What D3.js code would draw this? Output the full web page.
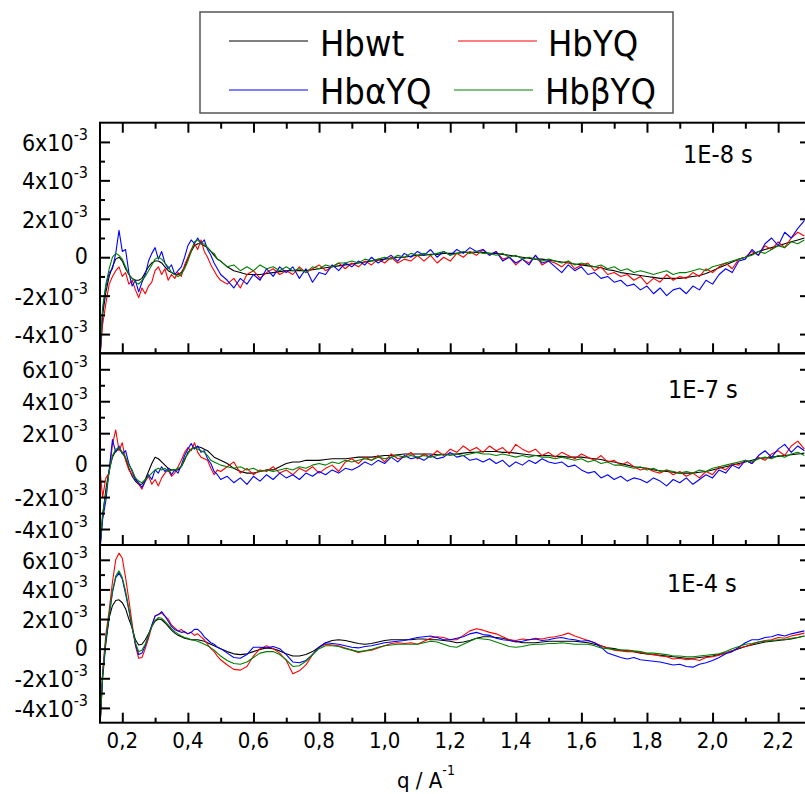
<!DOCTYPE html>
<html>
<head>
<meta charset="utf-8">
<script src="https://cdn.jsdelivr.net/npm/d3@7"></script>
<style>
  body { margin: 0; background: #fff; }
  svg text { font-family: 'DejaVu Sans Condensed', 'DejaVu Sans', sans-serif; font-stretch: condensed; fill: #000; }
</style>
</head>
<body>
<svg id="chart" width="805" height="794"></svg>
<script>
// q values (A^-1), shared by every curve
var Q = [0.132,0.14,0.15,0.16,0.17,0.18,0.19,0.20,
  0.21,0.22,0.23,0.24,0.25,0.26,0.27,0.28,0.29,0.30,
  0.31,0.32,0.33,0.34,0.35,0.36,0.37,0.38,0.39,0.40,
  0.41,0.42,0.43,0.44,0.45,0.46,0.47,0.48,0.49,0.50,
  0.52,0.54,0.56,0.58,0.60,0.62,0.64,0.66,0.68,0.70,
  0.72,0.74,0.76,0.78,0.80,0.82,0.84,0.86,0.88,0.90,
  0.92,0.94,0.96,0.98,1.00,1.02,1.04,1.06,1.08,1.10,
  1.12,1.14,1.16,1.18,1.20,1.22,1.24,1.26,1.28,1.30,
  1.32,1.34,1.36,1.38,1.40,1.42,1.44,1.46,1.48,1.50,
  1.52,1.54,1.56,1.58,1.60,1.62,1.64,1.66,1.68,1.70,
  1.72,1.74,1.76,1.78,1.80,1.82,1.84,1.86,1.88,1.90,
  1.92,1.94,1.96,1.98,2.00,2.02,2.04,2.06,2.08,2.10,
  2.12,2.14,2.16,2.18,2.20,2.22,2.24,2.26,2.28];

// difference signal in units of 1e-3, panel "1E-8 s"
var HBWT_8 = [-5.2,-3.0,-1.8,-1.0,-0.5,-0.1,0.0,-0.2,
  -0.6,-0.9,-1.1,-1.2,-1.2,-1.1,-0.8,-0.5,-0.3,-0.2,
  -0.2,-0.3,-0.5,-0.7,-0.8,-0.9,-0.9,-0.8,-0.5,-0.1,
  0.3,0.6,0.7,0.7,0.6,0.5,0.3,0.1,-0.1,-0.2,
  -0.5,-0.7,-0.8,-0.9,-0.9,-0.9,-0.85,-0.8,-0.75,-0.7,
  -0.7,-0.7,-0.7,-0.65,-0.6,-0.55,-0.5,-0.45,-0.4,-0.35,
  -0.3,-0.25,-0.2,-0.15,-0.1,-0.05,0.0,0.0,0.05,0.1,
  0.1,0.15,0.15,0.2,0.2,0.2,0.25,0.25,0.25,0.25,
  0.2,0.2,0.15,0.1,0.05,0.0,-0.05,-0.1,-0.1,-0.15,
  -0.2,-0.25,-0.3,-0.35,-0.4,-0.45,-0.5,-0.55,-0.65,-0.7,
  -0.8,-0.85,-0.9,-0.95,-1.0,-1.05,-1.1,-1.1,-1.1,-1.1,
  -1.05,-1.0,-0.95,-0.85,-0.7,-0.55,-0.4,-0.25,-0.1,0.0,
  0.15,0.3,0.4,0.5,0.6,0.7,0.8,0.9,1.0];
var HBYQ_8 = [-5.2,-3.5,-2.4,-1.4,-1.0,-0.7,-0.5,-1.0,
  -0.8,-1.4,-1.2,-1.7,-2.1,-1.6,-1.9,-1.5,-1.3,-0.7,
  -0.5,-0.9,-0.6,-1.2,-0.9,-1.1,-0.8,-1.0,-0.4,0.0,
  0.4,0.7,0.4,0.9,0.3,0.0,-0.4,-0.7,-1.0,-1.2,
  -1.4,-1.1,-1.6,-0.9,-0.7,-1.1,-0.8,-0.6,-0.9,-0.7,
  -0.9,-0.5,-0.8,-0.6,-0.4,-0.7,-0.5,-0.3,-0.6,-0.3,
  -0.5,-0.2,-0.4,-0.1,-0.3,0.0,-0.3,-0.1,-0.2,0.1,
  -0.2,0.1,-0.3,0.0,-0.2,0.2,0.0,0.3,0.1,0.4,
  0.1,0.3,-0.1,0.0,-0.4,-0.1,-0.3,0.1,-0.4,-0.2,
  -0.3,-0.5,-0.2,-0.6,-0.4,-0.3,-0.7,-0.5,-0.9,-0.8,
  -1.0,-0.9,-1.2,-1.0,-1.4,-1.1,-1.3,-0.9,-1.2,-1.0,
  -1.1,-0.8,-1.0,-0.6,-0.8,-0.5,-0.3,-0.6,-0.1,0.0,
  0.3,0.1,0.6,0.4,0.8,0.5,1.0,1.3,1.1];
var HBAYQ_8 = [-5.3,-2.8,-1.5,-0.8,-0.6,0.2,1.4,0.3,
  0.4,-0.8,-1.5,-1.2,-1.8,-1.3,-0.9,-0.2,0.2,0.5,
  -0.1,0.3,-0.3,-0.6,-0.4,-0.9,-0.7,-0.5,0.0,0.6,
  0.9,0.7,1.0,0.7,0.9,0.4,0.1,-0.3,-0.6,-0.9,
  -1.2,-1.6,-1.1,-1.4,-0.9,-1.2,-0.6,-1.0,-0.5,-0.8,
  -0.5,-1.1,-0.6,-1.3,-0.8,-0.9,-0.4,-0.7,-0.3,-0.5,
  -0.2,-0.4,0.0,-0.3,-0.1,0.1,-0.2,0.2,0.0,0.3,
  0.1,0.4,0.0,0.3,0.1,0.4,0.2,0.5,0.3,0.4,
  0.1,0.3,-0.2,0.0,-0.3,-0.1,-0.4,0.1,-0.3,-0.2,
  -0.5,-0.8,-0.4,-0.7,-0.5,-0.9,-0.8,-1.1,-1.0,-1.3,
  -1.2,-1.5,-1.4,-1.7,-1.5,-1.9,-1.6,-2.0,-1.7,-1.6,
  -1.9,-1.5,-1.7,-1.2,-1.4,-0.9,-0.6,-0.8,-0.2,-0.1,
  0.4,0.1,0.7,1.0,0.6,1.3,1.0,1.5,1.9];
var HBBYQ_8 = [-5.1,-2.6,-1.4,-0.6,0.0,0.2,0.1,-0.1,
  -0.5,-0.9,-1.1,-1.3,-1.4,-1.2,-1.0,-0.7,-0.4,-0.1,
  0.0,-0.1,-0.3,-0.5,-0.8,-0.9,-1.0,-0.9,-0.6,-0.2,
  0.3,0.8,0.9,0.7,0.7,0.5,0.3,0.2,-0.1,-0.2,
  -0.5,-0.4,-0.7,-0.5,-0.7,-0.4,-0.6,-0.5,-0.7,-0.5,
  -0.7,-0.6,-0.8,-0.5,-0.6,-0.4,-0.5,-0.3,-0.3,-0.2,
  -0.3,-0.1,-0.2,-0.1,0.0,-0.1,0.1,0.0,0.2,0.1,
  0.2,0.1,0.2,0.3,0.1,0.2,0.3,0.2,0.3,0.2,
  0.2,0.1,0.2,0.0,0.1,-0.1,0.0,-0.1,-0.2,-0.1,
  -0.2,-0.3,-0.2,-0.4,-0.3,-0.4,-0.5,-0.4,-0.6,-0.5,
  -0.7,-0.6,-0.8,-0.7,-0.8,-0.9,-0.8,-0.7,-0.9,-0.8,
  -0.8,-0.7,-0.6,-0.7,-0.5,-0.4,-0.3,-0.2,-0.1,0.0,
  0.1,0.3,0.2,0.4,0.6,0.5,0.8,0.7,0.9];

// panel "1E-7 s"
var HBWT_7 = [-5.2,-3.2,-1.5,-0.3,0.5,0.9,1.0,0.8,
  0.4,-0.2,-0.7,-1.0,-1.2,-1.2,-0.9,-0.4,0.1,0.5,
  0.4,0.2,0.0,-0.2,-0.3,-0.3,-0.3,-0.1,0.3,0.8,
  1.0,1.1,1.15,1.1,1.0,0.9,0.7,0.5,0.4,0.3,
  0.1,-0.2,-0.4,-0.5,-0.5,-0.4,-0.3,-0.3,-0.1,0.1,
  0.2,0.2,0.3,0.3,0.3,0.35,0.4,0.4,0.4,0.45,
  0.5,0.5,0.5,0.55,0.6,0.6,0.65,0.7,0.7,0.7,
  0.7,0.7,0.65,0.65,0.7,0.7,0.75,0.8,0.8,0.85,
  0.85,0.85,0.8,0.8,0.75,0.7,0.65,0.6,0.6,0.6,
  0.55,0.55,0.5,0.5,0.5,0.45,0.4,0.35,0.25,0.2,
  0.1,0.0,-0.1,-0.15,-0.2,-0.3,-0.35,-0.4,-0.45,-0.5,
  -0.5,-0.5,-0.45,-0.4,-0.3,-0.2,-0.1,0.0,0.1,0.2,
  0.3,0.4,0.45,0.5,0.55,0.6,0.65,0.7,0.75];
var HBYQ_7 = [-0.3,-2.0,-0.8,-0.5,1.3,2.2,0.9,1.4,
  0.3,-0.3,-0.6,-0.8,-1.2,-1.5,-1.0,-0.7,-1.2,-0.9,
  -1.3,-0.8,-0.5,-0.3,-0.7,-0.5,-0.1,0.3,0.8,1.1,
  0.9,1.4,0.8,0.5,0.4,0.3,-0.2,-0.6,-0.3,-0.4,
  -0.1,0.2,-0.5,-0.2,-0.6,-0.3,-0.4,-0.1,-0.5,-0.3,
  -0.6,-0.2,-0.4,-0.1,-0.5,-0.2,0.0,-0.4,0.2,0.4,
  0.1,0.5,0.3,0.6,0.2,0.7,0.4,0.5,0.8,0.4,
  0.7,0.5,0.9,0.6,1.0,0.8,1.2,0.9,1.1,0.8,
  1.2,0.9,1.1,0.7,1.3,1.0,0.8,1.0,0.6,0.8,
  0.5,0.8,0.6,0.4,0.7,0.5,0.3,0.6,0.2,0.3,
  0.0,0.2,-0.1,-0.3,-0.2,-0.4,-0.5,-0.3,-0.6,-0.4,
  -0.7,-0.5,-0.8,-0.4,-0.6,-0.1,-0.3,0.1,0.0,0.3,
  0.1,0.5,0.3,0.7,0.9,0.6,1.2,1.5,1.0];
var HBAYQ_7 = [-5.3,-3.4,-2.2,-0.3,1.6,0.8,1.2,0.7,
  0.9,0.1,-0.4,-0.9,-1.1,-1.4,-1.0,-0.6,-0.9,-0.3,
  -0.5,-0.1,-0.4,-0.2,-0.6,-0.3,-0.5,0.0,0.6,1.0,
  1.35,1.0,1.2,0.8,0.9,0.4,0.1,-0.4,-0.6,-0.9,
  -0.7,-1.1,-0.8,-1.2,-0.7,-1.0,-0.6,-0.9,-0.5,-0.8,
  -0.6,-0.9,-0.5,-0.7,-0.4,-0.6,-0.3,-0.5,-0.2,-0.3,
  -0.1,0.2,0.0,0.3,0.1,0.5,0.2,0.6,0.4,0.5,
  0.3,0.6,0.4,0.5,0.8,0.5,0.6,0.3,0.4,0.2,
  0.4,0.1,0.3,-0.1,0.2,0.0,0.3,0.1,0.4,0.2,
  0.1,0.2,-0.1,0.0,-0.3,-0.5,-0.4,-0.8,-0.6,-0.9,
  -0.7,-1.0,-0.8,-0.9,-1.1,-0.8,-1.0,-1.3,-0.9,-1.1,
  -0.8,-1.2,-0.9,-0.6,-0.8,-0.3,-0.5,0.0,-0.2,0.3,
  0.1,0.6,0.9,0.5,1.0,1.3,0.8,1.2,0.9];
var HBBYQ_7 = [-5.1,-3.0,-1.8,-0.4,0.6,1.0,1.1,0.8,
  0.5,0.0,-0.3,-0.8,-1.0,-1.1,-0.9,-0.7,-0.5,-0.3,
  -0.2,-0.3,-0.2,-0.4,-0.3,-0.3,-0.2,-0.1,0.4,0.7,
  1.0,1.1,1.0,0.9,0.8,0.6,0.3,0.2,0.1,0.0,
  -0.1,-0.2,-0.1,-0.3,-0.2,-0.4,-0.3,-0.4,-0.3,-0.2,
  -0.3,-0.1,-0.2,0.0,0.1,0.0,0.2,0.1,0.3,0.2,
  0.3,0.4,0.3,0.5,0.4,0.5,0.6,0.5,0.6,0.5,
  0.6,0.5,0.6,0.7,0.6,0.7,0.6,0.7,0.8,0.7,
  0.7,0.6,0.7,0.6,0.5,0.6,0.5,0.6,0.5,0.5,
  0.4,0.5,0.4,0.3,0.4,0.2,0.3,0.1,0.2,0.0,
  0.0,-0.1,-0.2,-0.1,-0.3,-0.2,-0.4,-0.3,-0.4,-0.5,
  -0.4,-0.5,-0.3,-0.4,-0.2,-0.1,0.0,0.1,0.2,0.3,
  0.2,0.4,0.5,0.4,0.6,0.5,0.7,0.8,0.6];

// panel "1E-4 s"
var HBWT_4 = [-5.2,-2.0,0.4,2.1,2.9,3.25,3.3,3.1,
  2.7,2.0,1.4,0.6,0.25,0.3,0.6,1.0,1.5,1.85,
  2.0,1.95,1.75,1.5,1.25,1.05,0.9,0.8,0.7,0.65,
  0.6,0.6,0.6,0.55,0.5,0.4,0.3,0.2,0.1,0.0,
  -0.2,-0.35,-0.4,-0.35,-0.2,-0.05,0.05,0.0,-0.15,-0.35,
  -0.5,-0.5,-0.4,-0.2,0.1,0.4,0.55,0.6,0.55,0.45,
  0.35,0.3,0.35,0.45,0.55,0.6,0.6,0.6,0.6,0.65,
  0.65,0.6,0.6,0.55,0.5,0.4,0.45,0.55,0.7,0.8,
  0.8,0.75,0.7,0.6,0.5,0.4,0.4,0.4,0.45,0.5,
  0.5,0.5,0.5,0.5,0.45,0.4,0.3,0.2,0.05,0.0,
  -0.1,-0.15,-0.2,-0.3,-0.35,-0.4,-0.45,-0.5,-0.55,-0.6,
  -0.65,-0.65,-0.6,-0.55,-0.5,-0.4,-0.3,-0.15,0.0,0.15,
  0.25,0.35,0.45,0.5,0.55,0.6,0.65,0.75,0.85];
var HBYQ_4 = [-5.4,-1.5,1.0,2.6,4.5,6.0,6.45,6.1,
  4.8,3.3,1.7,0.2,-0.65,-0.6,0.0,0.7,1.5,2.2,
  2.3,2.4,2.2,2.0,1.6,1.4,1.2,1.3,1.1,1.0,
  1.1,0.9,1.0,0.8,0.6,0.3,0.0,-0.2,-0.5,-0.75,
  -1.1,-1.4,-1.45,-1.2,-0.5,0.0,0.2,0.0,-0.3,-0.8,
  -1.7,-1.5,-1.1,-0.4,0.1,0.3,0.25,0.2,0.05,-0.1,
  -0.25,-0.15,-0.1,0.05,0.2,0.35,0.4,0.35,0.4,0.3,
  0.5,0.7,0.8,0.75,0.6,0.6,0.9,1.2,1.35,1.25,
  1.1,1.0,0.8,0.6,0.55,0.65,0.6,0.7,0.65,0.75,
  0.8,0.9,1.05,0.85,0.7,0.55,0.4,0.2,0.05,-0.1,
  -0.15,-0.2,-0.2,-0.25,-0.35,-0.4,-0.5,-0.55,-0.7,-0.65,
  -0.75,-0.7,-0.8,-0.6,-0.55,-0.45,-0.3,-0.15,0.05,0.15,
  0.3,0.45,0.55,0.6,0.75,0.7,0.85,0.95,1.05];
var HBAYQ_4 = [-5.3,-1.8,0.6,2.2,3.8,4.8,5.1,4.7,
  3.7,2.6,1.4,0.3,-0.4,-0.3,0.2,0.9,1.6,2.2,
  2.3,2.5,2.2,1.85,1.5,1.3,1.2,1.1,1.15,1.0,
  1.1,1.3,1.3,1.1,0.8,0.6,0.4,0.3,0.1,0.0,
  -0.3,-0.6,-0.65,-0.4,0.1,0.1,0.05,0.15,0.0,-0.4,
  -0.9,-0.95,-0.8,-0.4,0.1,0.4,0.35,0.3,0.2,0.1,
  0.05,0.15,0.2,0.3,0.4,0.45,0.5,0.55,0.65,0.75,
  0.8,0.85,0.75,0.6,0.6,0.7,0.8,1.0,1.1,0.95,
  0.9,0.7,0.6,0.55,0.45,0.5,0.6,0.65,0.55,0.6,
  0.7,0.75,0.65,0.6,0.5,0.55,0.4,0.1,-0.3,-0.45,
  -0.6,-0.7,-0.6,-0.75,-0.8,-0.85,-0.9,-1.0,-1.1,-1.05,
  -1.2,-1.25,-1.05,-0.95,-0.8,-0.6,-0.35,-0.2,0.1,0.4,
  0.6,0.6,0.75,0.8,0.95,0.85,1.0,1.1,1.2];
var HBBYQ_4 = [-5.2,-1.8,0.7,2.3,3.9,4.9,5.25,4.8,
  3.9,2.7,1.4,0.4,-0.2,-0.1,0.3,0.9,1.5,1.9,
  2.1,2.05,1.85,1.6,1.35,1.15,1.0,0.85,0.75,0.7,
  0.6,0.55,0.5,0.4,0.3,0.2,0.05,-0.1,-0.3,-0.5,
  -0.8,-1.0,-1.05,-0.9,-0.6,-0.3,-0.2,-0.2,-0.4,-0.75,
  -1.2,-1.15,-0.85,-0.4,0.0,0.2,0.2,0.15,0.0,-0.1,
  -0.2,-0.15,-0.05,0.1,0.2,0.25,0.3,0.3,0.3,0.3,
  0.4,0.5,0.45,0.3,0.15,0.1,0.3,0.5,0.7,0.65,
  0.6,0.45,0.3,0.15,0.1,0.15,0.25,0.3,0.3,0.35,
  0.35,0.4,0.35,0.3,0.3,0.3,0.2,0.05,0.0,-0.05,
  -0.1,-0.1,-0.15,-0.2,-0.3,-0.3,-0.35,-0.4,-0.5,-0.5,
  -0.55,-0.55,-0.5,-0.45,-0.4,-0.35,-0.2,0.0,0.15,0.3,
  0.35,0.45,0.5,0.55,0.6,0.6,0.7,0.75,0.85];

var SERIES_NAMES = ["Hbwt", "HbYQ", "HbαYQ", "HbβYQ"];
var SERIES_COLORS = ["#000000", "#ff0000", "#0000ff", "#008000"];
var PANEL_LABELS = ["1E-8 s", "1E-7 s", "1E-4 s"];
var X_MAJOR = [0.2,0.4,0.6,0.8,1.0,1.2,1.4,1.6,1.8,2.0,2.2];
var X_MINOR = [0.3,0.5,0.7,0.9,1.1,1.3,1.5,1.7,1.9,2.1];
var Y_MAJOR = [-4,-2,0,2,4,6];
var Y_MINOR = [-3,-1,1,3,5];

var panels = [
  { label: PANEL_LABELS[0], data: [HBWT_8, HBYQ_8, HBAYQ_8, HBBYQ_8], top: 122.7, bottom: 353.3, lx: 683, ly: 163 },
  { label: PANEL_LABELS[1], data: [HBWT_7, HBYQ_7, HBAYQ_7, HBBYQ_7], top: 353.3, bottom: 545, lx: 668, ly: 398 },
  { label: PANEL_LABELS[2], data: [HBWT_4, HBYQ_4, HBAYQ_4, HBBYQ_4], top: 545, bottom: 722.7, lx: 667, ly: 592 }
];

var svg = d3.select("#chart");
var left = 100, right = 807;
var x = d3.scaleLinear().domain([0.132, 2.288]).range([left, right]);

panels.forEach(function(p, pi) {
  var y = d3.scaleLinear().domain([-5, 7]).range([p.bottom, p.top]);
  var g = svg.append("g");

  g.append("clipPath").attr("id", "clip" + pi)
    .append("rect")
    .attr("x", left).attr("y", p.top)
    .attr("width", right - left).attr("height", p.bottom - p.top);

  var line = d3.line()
    .x(function(d, i) { return x(Q[i]); })
    .y(function(d) { return y(d); });

  var curves = g.append("g").attr("clip-path", "url(#clip" + pi + ")");
  p.data.forEach(function(vals, si) {
    curves.append("path")
      .attr("d", line(vals))
      .attr("fill", "none")
      .attr("stroke", SERIES_COLORS[si])
      .attr("stroke-width", 1.1)
      .attr("stroke-linejoin", "round");
  });

  // ticks, all pointing inwards
  function ticks(axis, tx, ty) {
    var a = g.append("g").attr("transform", "translate(" + tx + "," + ty + ")").call(axis);
    a.select(".domain").remove();
    a.selectAll("line").attr("stroke", "#000").attr("stroke-width", 2);
  }
  ticks(d3.axisBottom(x).tickValues(X_MAJOR).tickSize(-10).tickFormat(""), 0, p.bottom);
  ticks(d3.axisBottom(x).tickValues(X_MINOR).tickSize(-5).tickFormat(""), 0, p.bottom);
  if (pi === 0) {
    ticks(d3.axisTop(x).tickValues(X_MAJOR).tickSize(-10).tickFormat(""), 0, p.top);
    ticks(d3.axisTop(x).tickValues(X_MINOR).tickSize(-6).tickFormat(""), 0, p.top);
  }
  ticks(d3.axisLeft(y).tickValues(Y_MAJOR).tickSize(-10).tickFormat(""), left, 0);
  ticks(d3.axisLeft(y).tickValues(Y_MINOR).tickSize(-5).tickFormat(""), left, 0);
  ticks(d3.axisRight(y).tickValues(Y_MAJOR).tickSize(-7).tickFormat(""), right, 0);

  g.append("rect")
    .attr("x", left).attr("y", p.top)
    .attr("width", right - left).attr("height", p.bottom - p.top)
    .attr("fill", "none").attr("stroke", "#000").attr("stroke-width", 2);

  // y labels like 6x10^-3
  Y_MAJOR.forEach(function(v) {
    var t = svg.append("text")
      .attr("x", 88).attr("text-anchor", "end")
      .style("font-size", "23px");
    if (v === 0) {
      t.attr("y", y(v) + 7).text("0");
    } else {
      t.attr("y", y(v) + 9);
      t.append("tspan").text(v + "x10");
      t.append("tspan").attr("dy", -11).style("font-size", "16px").text("-3");
    }
  });

  svg.append("text")
    .attr("x", p.lx).attr("y", p.ly)
    .style("font-size", "25px")
    .text(p.label);
});

// x tick labels under the last panel
X_MAJOR.forEach(function(v) {
  svg.append("text")
    .attr("x", x(v)).attr("y", 748)
    .attr("text-anchor", "middle")
    .style("font-size", "22px")
    .text(d3.format(".1f")(v).replace(".", ","));
});

var title = svg.append("text").attr("x", 397).attr("y", 788).style("font-size", "22px");
title.append("tspan").text("q / A");
title.append("tspan").attr("dy", -13).style("font-size", "14px").text("-1");

// legend
var legend = svg.append("g");
legend.append("rect")
  .attr("x", 200).attr("y", 12).attr("width", 473).attr("height", 101)
  .attr("fill", "#fff").attr("stroke", "#555").attr("stroke-width", 1.5);
var legendPos = [
  { x1: 229, x2: 308, tx: 320, y: 41, ty: 56 },
  { x1: 458, x2: 537, tx: 548, y: 41, ty: 56 },
  { x1: 229, x2: 308, tx: 320, y: 90, ty: 104 },
  { x1: 454, x2: 533, tx: 545, y: 90, ty: 104 }
];
SERIES_NAMES.forEach(function(name, i) {
  var lp = legendPos[i];
  legend.append("line")
    .attr("x1", lp.x1).attr("x2", lp.x2).attr("y1", lp.y).attr("y2", lp.y)
    .attr("stroke", SERIES_COLORS[i]).attr("stroke-width", 1);
  legend.append("text")
    .attr("x", lp.tx).attr("y", lp.ty)
    .style("font-size", "36px")
    .text(name);
});
</script>
</body>
</html>
